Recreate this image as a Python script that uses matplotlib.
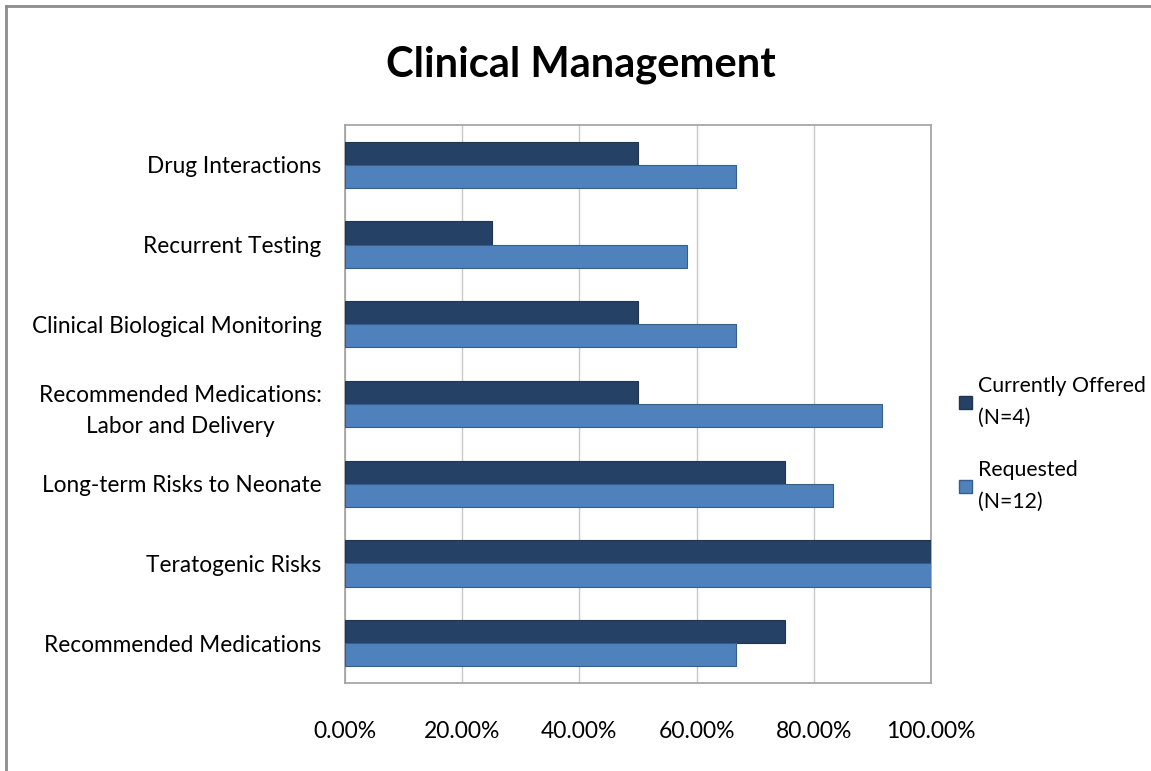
import numpy as np
import matplotlib.pyplot as plt
from matplotlib.lines import Line2D
from matplotlib.patches import Patch

plt.rcParams['font.family'] = ['Lato', 'DejaVu Sans']

# data, top to bottom as shown
categories = ['Drug Interactions', 'Recurrent Testing', 'Clinical Biological Monitoring',
              'Recommended Medications:\nLabor and Delivery', 'Long-term Risks to Neonate',
              'Teratogenic Risks', 'Recommended Medications']
offered = [0.50, 0.25, 0.50, 0.50, 0.75, 1.00, 0.75]        # Currently Offered (N=4)
requested = [0.6667, 0.5833, 0.6667, 0.9167, 0.8333, 1.00, 0.6667]  # Requested (N=12)
xticks = [0.0, 0.2, 0.4, 0.6, 0.8, 1.0]

dark = '#264166'
light = '#4f81bd'

fig = plt.figure(figsize=(11.51, 7.71), dpi=100)
ax = fig.add_axes([345/1151, 1 - 683/771, 586/1151, 558/771])

y = np.arange(len(categories))
h = 0.29
ax.barh(y - h/2, offered, height=h, color=dark, edgecolor='#1f3552', linewidth=0.8, zorder=3)
ax.barh(y + h/2, requested, height=h, color=light, edgecolor='#385d8a', linewidth=0.8, zorder=3)

ax.set_ylim(len(categories) - 0.5, -0.5)
ax.set_xlim(0, 1)
ax.set_yticks(y)
ax.set_yticklabels(categories, fontsize=16.3, multialignment='center', linespacing=1.6)
ax.set_xticks(xticks)
ax.set_xticklabels(['%.2f%%' % (v * 100) for v in xticks], fontsize=16.5)
ax.tick_params(axis='y', length=0, pad=17)
ax.tick_params(axis='x', length=0, pad=27)
ax.grid(axis='x', color='#c8c8c8', linewidth=1, zorder=0)
for s in ax.spines.values():
    s.set_color('#a0a0a0')
    s.set_linewidth(1.2)

fig.text(581/1151, 1 - 65/771, 'Clinical Management', fontsize=30, fontweight='bold',
         ha='center', va='center')

handles = [Patch(facecolor=dark, edgecolor='#1f3552'),
           Patch(facecolor=light, edgecolor='#385d8a')]
leg = fig.legend(handles, ['Currently Offered\n(N=4)', 'Requested\n(N=12)'],
                 loc='center left', bbox_to_anchor=(940/1151, 1 - 444/771), frameon=False,
                 fontsize=15.3, handlelength=0.6, handleheight=0.6, handletextpad=0.3,
                 labelspacing=1.5)
for t in leg.get_texts():
    t.set_linespacing(1.75)

# outer chart frame
fig.add_artist(Line2D([6/1151, 6/1151], [0, 1 - 6/771], transform=fig.transFigure,
                      color='#8c8c8c', linewidth=2))
fig.add_artist(Line2D([6/1151, 1], [1 - 6/771, 1 - 6/771], transform=fig.transFigure,
                      color='#8c8c8c', linewidth=2))

fig.savefig('out.png', dpi=100)
